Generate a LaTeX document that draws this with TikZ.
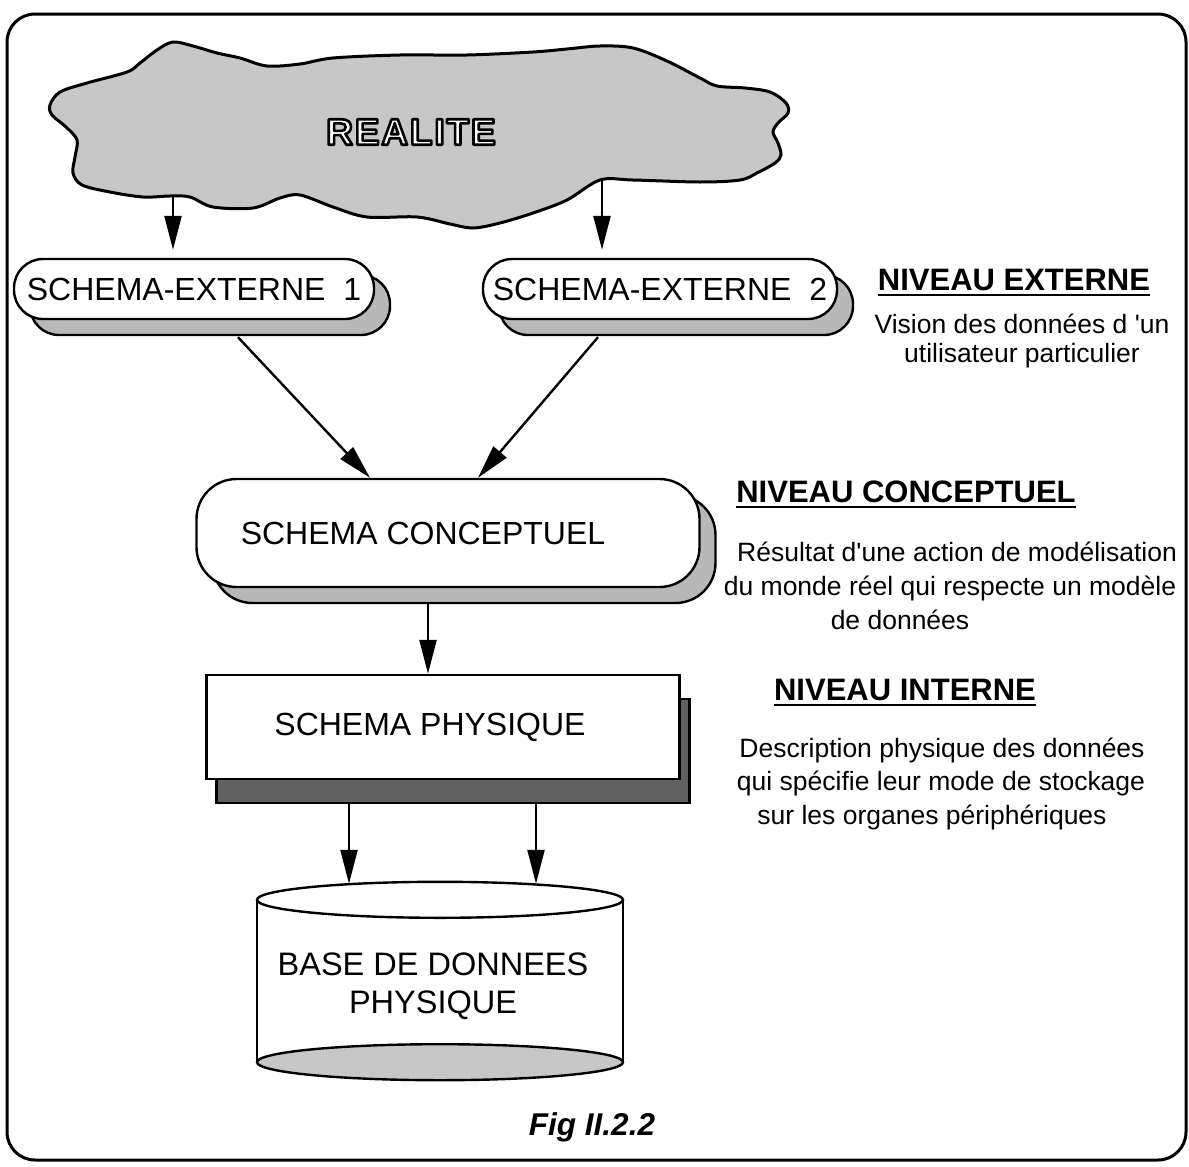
\documentclass[tikz,border=0pt]{standalone}
\usepackage{fontspec}
\setmainfont{Liberation Sans}[Ligatures=TeXOff]
\usetikzlibrary{arrows.meta,shadows,calc}
\begin{document}
\begin{tikzpicture}[x=1pt,y=-1pt,
  every node/.style={font=\fontsize{32}{37}\selectfont},
  lw/.style={line width=2.4pt},
  arr/.style={line width=2.4pt, -{Triangle[length=34pt,width=17pt]}},
  shadowlight/.style={general shadow={shadow xshift=16pt, shadow yshift=-16pt, fill=black!28, draw=black, line width=2.4pt}},
  shadowdark/.style={general shadow={shadow xshift=10pt, shadow yshift=-24pt, fill=black!62, draw=black, line width=2.4pt}},
  pill/.style={draw, lw, fill=white, rounded corners=29pt, minimum width=360pt, minimum height=60pt, inner sep=0pt, shadowlight},
  roundbox/.style={draw, lw, fill=white, rounded corners=40pt, minimum width=503pt, minimum height=108pt, inner sep=0pt, shadowlight},
  plainbox/.style={draw, lw, fill=white, minimum width=473pt, minimum height=104pt, inner sep=0pt, shadowdark},
  heading/.style={font=\fontsize{31}{36}\selectfont\bfseries, inner sep=0pt, anchor=base},
  desc/.style={font=\fontsize{26.5}{30}\selectfont, inner sep=0pt, anchor=base},
]
\useasboundingbox (0,0) rectangle (1189,1167);
% frame
\draw[line width=3pt, rounded corners=28pt] (7,14) rectangle (1186,1160);

% cloud
\draw[line width=3pt, fill=black!22] plot[smooth cycle, tension=0.55] coordinates {
 (50,105) (60,92) (87,83) (127,72) (140,63) (157,50) (173,42) (193,46) (217,53)
 (240,58) (267,66) (300,64) (333,58) (400,55) (467,55) (533,52) (567,49) (600,46)
 (633,48) (667,61) (700,78) (717,86) (745,88) (770,92) (786,103) (788,113)
 (778,123) (773,132) (778,143) (781,155) (775,163) (757,173) (740,180) (700,182)
 (633,180) (600,180) (567,200) (533,213) (500,223) (473,228) (450,224) (417,217)
 (367,217) (333,207) (300,195) (280,198) (253,208) (213,207) (190,197) (170,196)
 (143,197) (110,192) (82,185) (73,173) (75,157) (77,140) (66,127) (52,115)};
\node[font=\fontsize{37}{40}\selectfont\bfseries\addfontfeatures{LetterSpace=5}] (realite) at (411,132)
  {{\color{white}\special{pdf:literal direct q 0 0 0 RG 2.6 w 1 j 2 Tr}REALITE\special{pdf:literal direct Q}}};
\coordinate (c1) at (173,196);
\coordinate (c2) at (602,180);

% external schemas
\node[pill] (se1) at (194,289) {SCHEMA-EXTERNE\ \ 1};
\node[pill, minimum width=354pt] (se2) at (660,289) {SCHEMA-EXTERNE\ \ 2};
\draw[arr] (c1) -- ($(c1 |- se1.north)+(0,-8)$);
\draw[arr] (c2) -- ($(c2 |- se2.north)+(0,-8)$);

% conceptual
\node[roundbox] (sc) at (448,533) {SCHEMA CONCEPTUEL\hspace*{50pt}};
\draw[arr] ($(se1.south)+(44,17)$) -- ($(sc.north)+(-78,0)$);
\draw[arr] ($(se2.south)+(-62,17)$) -- ($(sc.north)+(30,0)$);

% physical
\node[plainbox] (sp) at (443,727) {\raisebox{4pt}{SCHEMA PHYSIQUE}\hspace*{26pt}};
\coordinate (scout) at ($(sc.south)+(-20,16)$);
\draw[arr] (scout) -- (scout |- sp.north);

% database cylinder
\node[minimum width=366pt, minimum height=162pt, inner sep=0pt] (db) at (440,981) {};
\draw[lw, fill=black!22] (db.south) ellipse [x radius=183pt, y radius=18pt];
\draw[lw] (db.north west) -- (db.south west);
\draw[lw] (db.north east) -- (db.south east);
\draw[lw] (db.north) ellipse [x radius=183pt, y radius=18pt];
\node[align=center, font=\fontsize{32.5}{38}\selectfont, inner sep=0pt] (dbtext) at (433,986) {BASE DE DONNEES\\PHYSIQUE};
\coordinate (s1) at ($(sp.south)+(-94,24)$);
\coordinate (s2) at ($(sp.south)+(93,24)$);
\draw[arr] (s1) -- ($(s1 |- db.north)+(0,-16)$);
\draw[arr] (s2) -- ($(s2 |- db.north)+(0,-16)$);

% caption
\node[font=\fontsize{31.5}{36}\selectfont\bfseries\itshape] (fig) at (592,1127) {Fig II.2.2};

% right texts
\node[heading] (h1) at (1014,290) {NIVEAU EXTERNE};
\draw[line width=2.4pt] ([yshift=-5pt]h1.base west) -- ([yshift=-5pt]h1.base east);
\node[desc] (d1a) at (1022,333) {Vision des données d 'un};
\node[desc] (d1b) at (1022,362) {utilisateur particulier};

\node[heading] (h2) at (906,502) {NIVEAU CONCEPTUEL};
\draw[line width=2.4pt] ([yshift=-5pt]h2.base west) -- ([yshift=-5pt]h2.base east);
\node[desc] (d2a) at (957,561) {Résultat d'une action de modélisation};
\node[desc] (d2b) at (950,595) {du monde réel qui respecte un modèle};
\node[desc] (d2c) at (900,629) {de données};

\node[heading] (h3) at (905,700) {NIVEAU INTERNE};
\draw[line width=2.4pt] ([yshift=-5pt]h3.base west) -- ([yshift=-5pt]h3.base east);
\node[desc] (d3a) at (942,757) {Description physique des données};
\node[desc] (d3b) at (941,790) {qui spécifie leur mode de stockage};
\node[desc] (d3c) at (932,824) {sur les organes périphériques};
\end{tikzpicture}
\end{document}
